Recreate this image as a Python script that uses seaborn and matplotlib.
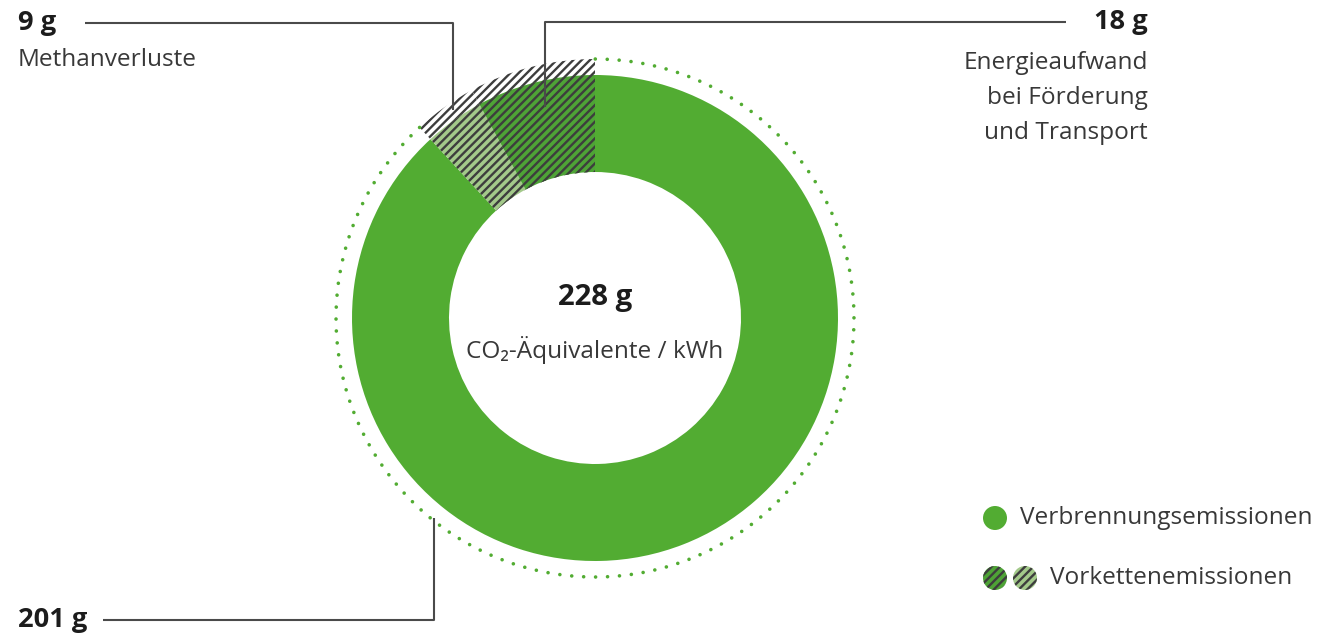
import numpy as np
import matplotlib
matplotlib.use("Agg")
import matplotlib.pyplot as plt
import matplotlib.patches as mpatches
import seaborn as sns

# data
labels = ["Verbrennungsemissionen", "Methanverluste", "Energieaufwand bei Förderung und Transport"]
values = [201, 9, 18]
total = sum(values)
value_labels = ["201 g", "9 g", "18 g"]
green = "#52ac32"
colors = [green, "#a3c98a", "#4ea336"]
hatch = "////////"
hatches = ["", hatch, hatch]

sns.set_theme(style="white")
plt.rcParams["font.family"] = ["Open Sans", "DejaVu Sans"]
plt.rcParams["hatch.linewidth"] = 0.85

W, H = 1317, 636
fig = plt.figure(figsize=(W / 200, H / 200), dpi=200)
ax = fig.add_axes([0, 0, 1, 1])

cx, cy = 595, 318
r_out, r_in, r_hatch, r_dots = 243, 146, 259, 259
hatch_col = "#3d3d3d"

# outer hatched band for the upstream emissions
outer, _ = ax.pie(values, radius=r_hatch, center=(cx, cy), startangle=90, counterclock=False,
                  colors=["white"] * 3, hatch=hatches,
                  wedgeprops=dict(width=r_hatch - r_in, edgecolor=hatch_col, linewidth=0))
outer[0].set_visible(False)

# main ring
ring, _ = ax.pie(values, radius=r_out, center=(cx, cy), startangle=90, counterclock=False,
                 colors=colors, hatch=hatches,
                 wedgeprops=dict(width=r_out - r_in, edgecolor=hatch_col, linewidth=0))
ring[0].set_edgecolor(green)

# dotted circle along the combustion part
end_angle = 90 - 360 * values[0] / total
arc = mpatches.Arc((cx, cy), 2 * r_dots, 2 * r_dots, theta1=end_angle + 360, theta2=450,
                   color=green, linewidth=1.3, linestyle=(0, (0.01, 3.3)))
arc.set_capstyle("round")
ax.add_patch(arc)

ax.set_xlim(0, W)
ax.set_ylim(0, H)
ax.set_aspect("equal")
ax.axis("off")

fs = 8.8
fsb = 9.8
dark = "#1c1c1c"
grey = "#383838"
line_kw = dict(color="#4a4a4a", linewidth=0.75, solid_capstyle="butt")

# 9 g
ax.text(18, 613, value_labels[1], fontsize=fsb, fontweight="bold", color=dark, ha="left", va="center")
ax.text(18, 576, labels[1], fontsize=fs, color=grey, ha="left", va="center")
ax.plot([85, 453, 453], [613, 613, 526], **line_kw)

# 18 g
ax.text(1148, 614, value_labels[2], fontsize=fsb, fontweight="bold", color=dark, ha="right", va="center")
ax.text(1148, 585, "Energieaufwand\nbei Förderung\nund Transport", fontsize=fs, color=grey,
        ha="right", va="top", ma="right", linespacing=1.6)
ax.plot([1066, 545, 545], [614, 614, 529], **line_kw)

# 201 g
ax.text(18, 16, value_labels[0], fontsize=fsb, fontweight="bold", color=dark, ha="left", va="center")
ax.plot([103, 434, 434], [16, 16, 118], **line_kw)

# centre
ax.text(cx, 338, f"{total} g", fontsize=10.6, fontweight="bold", color=dark, ha="center", va="center")
ax.text(cx, 286, "CO₂-Äquivalente / kWh", fontsize=fs, color=grey, ha="center", va="center")

# legend
ax.add_patch(mpatches.Circle((995, 118), 12, facecolor=green, edgecolor="none"))
ax.text(1020, 118, labels[0], fontsize=fs, color=grey, ha="left", va="center")
ax.add_patch(mpatches.Circle((995, 58), 12, facecolor=colors[2], edgecolor=hatch_col,
                             linewidth=0, hatch=hatch))
ax.add_patch(mpatches.Circle((1025, 58), 12, facecolor=colors[1], edgecolor=hatch_col,
                             linewidth=0, hatch=hatch))
ax.text(1050, 58, "Vorkettenemissionen", fontsize=fs, color=grey, ha="left", va="center")

fig.savefig("out.png", dpi=200, facecolor="white")
